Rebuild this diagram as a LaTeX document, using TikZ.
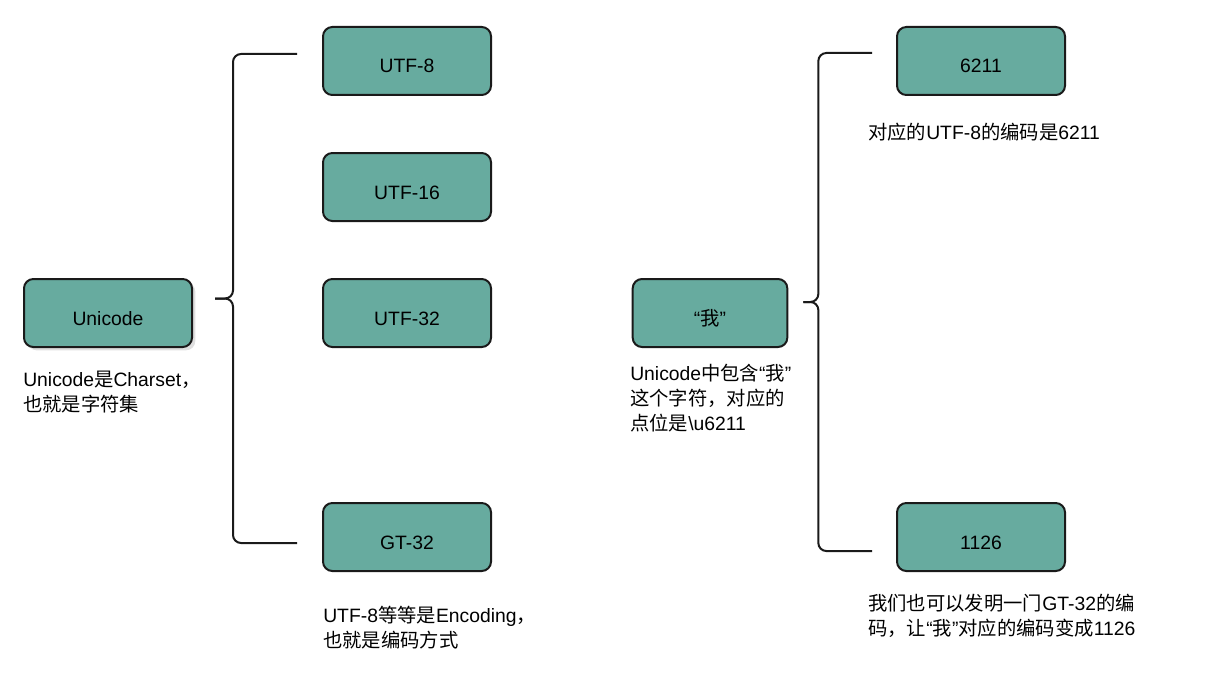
\documentclass[tikz,border=0pt]{standalone}
\usepackage{fontspec}
\setmainfont{Liberation Sans}
\newfontfamily\cjk{Noto Sans CJK SC}
\usetikzlibrary{calc,shadows}
\definecolor{boxgreen}{HTML}{67AB9F}
\definecolor{edge}{HTML}{1A1A1A}
\tikzset{
    codebox/.style = {draw = edge, line width = 1.5pt, fill = boxgreen, rounded corners = 7pt,
        minimum width = 126pt, minimum height = 51pt, inner sep = 0pt,
        text height = 18pt, text depth = 0pt},
    note/.style = {anchor = north west, align = left, inner sep = 0pt},
    brace/.style = {draw = edge, line width = 1.5pt, rounded corners = 6pt}
}
\begin{document}
\begin{tikzpicture}[x = 0.75pt, y = -0.75pt, font = \fontsize{14.5}{18.75}\selectfont]
    \useasboundingbox (0,0) rectangle (1210,674);
    % charset and its encodings
    \node[codebox, drop shadow = {shadow xshift = 2.5pt, shadow yshift = -2.5pt, opacity = 0.25}] (unicode) at (108,313) {Unicode};
    \foreach \y/\n/\t in {61/utf8/UTF-8, 187/utf16/UTF-16, 313/utf32/UTF-32, 537/gt32/GT-32}
    {
    \node[codebox] (\n) at (407,\y) {\t};
    }
    \node[note] at (23,371) {Unicode{\cjk 是}Charset{\cjk ，}\\{\cjk 也就是字符集}};
    \node[note] at (323,606) {UTF-8{\cjk 等等是}Encoding{\cjk ，}\\{\cjk 也就是编码方式}};
    \coordinate (ltop) at ($(utf8.west)+(-25,-7)$);
    \coordinate (lbot) at ($(gt32.west)+(-25,6)$);
    \coordinate (ltip) at ($(unicode.east)+(22,-14.5)$);
    \draw[brace] (ltip) -- ++(18,0) |- (ltop);
    \draw[brace] (ltip) -- ++(18,0) |- (lbot);
    % one character and two code values
    \node[codebox, minimum width = 116pt] (wo) at (710,313) {“{\cjk 我}”};
    \foreach \y/\n/\t in {61/c6211/6211, 537/c1126/1126}
    {
    \node[codebox] (\n) at (981,\y) {\t};
    }
    \node[note] at (630,364) {Unicode{\cjk 中包含}“{\cjk 我}”\\{\cjk 这个字符，对应的}\\{\cjk 点位是}\textbackslash u6211};
    \node[note] at (868,123) {{\cjk 对应的}UTF-8{\cjk 的编码是}6211};
    \node[note] at (868,594) {{\cjk 我们也可以发明一门}GT-32{\cjk 的编}\\{\cjk 码，让}“{\cjk 我}”{\cjk 对应的编码变成}1126};
    \coordinate (rtop) at ($(c6211.west)+(-24,-8)$);
    \coordinate (rbot) at ($(c1126.west)+(-24,14)$);
    \coordinate (rtip) at ($(wo.east)+(15,-11)$);
    \draw[brace] (rtip) -- ++(15,0) |- (rtop);
    \draw[brace] (rtip) -- ++(15,0) |- (rbot);
\end{tikzpicture}
\end{document}
